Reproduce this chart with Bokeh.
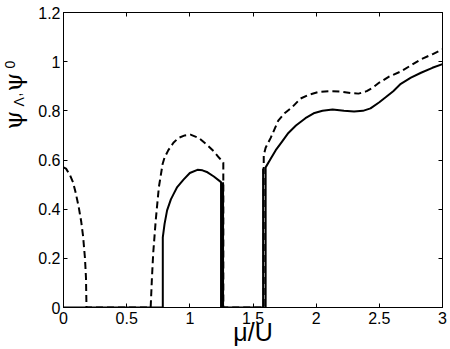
import math
from bokeh.plotting import figure
from bokeh.layouts import row
from bokeh.models import Range1d, LinearAxis, FixedTicker, Label
from bokeh.embed import file_html
from bokeh.resources import INLINE

# ---- data ----
x_ticks = [0, 0.5, 1, 1.5, 2, 2.5, 3]
x_tick_labels = ["0", "0.5", "1", "1.5", "2", "2.5", "3"]
y_ticks = [0, 0.2, 0.4, 0.6, 0.8, 1.0, 1.2]
y_tick_labels = ["0", "0.2", "0.4", "0.6", "0.8", "1", "1.2"]

# psi_0 (dashed)
psi0_mu = [0.0, 0.02, 0.05, 0.075, 0.095, 0.12, 0.14, 0.155, 0.17, 0.178, 0.182,
           0.69, 0.70, 0.71, 0.73, 0.755, 0.785, 0.80, 0.83, 0.87, 0.91, 0.96,
           1.005, 1.07, 1.14, 1.19, 1.23, 1.265, 1.265,
           1.585, 1.585, 1.60, 1.64, 1.70, 1.75, 1.81, 1.876, 1.94, 2.02, 2.10,
           2.20, 2.28, 2.335, 2.40, 2.45, 2.50, 2.58, 2.67, 2.75, 2.83, 2.92, 3.0]
psi0 = [0.57, 0.565, 0.54, 0.51, 0.47, 0.41, 0.35, 0.29, 0.20, 0.12, 0.0,
        0.0, 0.12, 0.22, 0.354, 0.49, 0.585, 0.61, 0.64, 0.67, 0.69, 0.70,
        0.703, 0.69, 0.66, 0.635, 0.61, 0.59, 0.0,
        0.0, 0.62, 0.65, 0.69, 0.76, 0.79, 0.815, 0.85, 0.865, 0.877, 0.88,
        0.878, 0.872, 0.87, 0.88, 0.895, 0.915, 0.94, 0.96, 0.985, 1.01, 1.03, 1.05]

# psi_Lambda (solid)
psiL_mu = [0.0, 0.786, 0.786, 0.80, 0.82, 0.85, 0.87, 0.90, 0.95, 1.00, 1.06,
           1.10, 1.14, 1.19, 1.247, 1.247, 1.263, 1.263, 1.263,
           1.58, 1.58, 1.58, 1.60, 1.60, 1.64, 1.68, 1.73, 1.78, 1.84, 1.915,
           1.98, 2.05, 2.13, 2.22, 2.30, 2.37, 2.43, 2.50, 2.55, 2.61, 2.67,
           2.75, 2.83, 2.92, 3.0]
psiL = [0.0, 0.0, 0.285, 0.34, 0.395, 0.44, 0.46, 0.49, 0.52, 0.547, 0.56,
        0.558, 0.55, 0.533, 0.51, 0.0, 0.0, 0.51, 0.0,
        0.0, 0.565, 0.0, 0.0, 0.57, 0.605, 0.64, 0.675, 0.71, 0.74, 0.77,
        0.79, 0.80, 0.805, 0.80, 0.797, 0.80, 0.81, 0.835, 0.855, 0.88, 0.91,
        0.935, 0.955, 0.975, 0.99]

H = 349
LW = 30

# ---- main plot ----
p = figure(width=450 - LW, height=H, x_range=Range1d(0, 3), y_range=Range1d(0, 1.2),
           output_backend="svg", toolbar_location=None,
           min_border_left=63 - LW, min_border_right=8, min_border_top=12,
           min_border_bottom=42)
p.xgrid.visible = False
p.ygrid.visible = False
p.outline_line_color = "black"
p.outline_line_width = 1

for ax, ticks, labels in ((p.xaxis[0], x_ticks, x_tick_labels), (p.yaxis[0], y_ticks, y_tick_labels)):
    ax.ticker = FixedTicker(ticks=ticks)
    ax.major_label_overrides = {t: l for t, l in zip(ticks, labels)}
    ax.major_tick_in = 4
    ax.major_tick_out = 0
    ax.minor_tick_line_color = None
    ax.axis_line_color = "black"
    ax.major_tick_line_color = "black"
    ax.major_label_text_font = "Liberation Sans"
    ax.major_label_text_font_size = "16px"
    ax.major_label_text_color = "black"
p.xaxis.major_label_standoff = 4
p.yaxis.major_label_standoff = 3
p.xaxis.axis_label = "μ/U"
p.xaxis.axis_label_text_font = "Liberation Sans"
p.xaxis.axis_label_text_font_size = "25px"
p.xaxis.axis_label_text_font_style = "normal"
p.xaxis.axis_label_text_color = "black"
p.xaxis.axis_label_standoff = -9

top = LinearAxis(ticker=FixedTicker(ticks=x_ticks), major_tick_in=4, major_tick_out=0,
                 minor_tick_line_color=None, major_label_text_color=None,
                 major_label_standoff=0, axis_line_color="black")
right = LinearAxis(ticker=FixedTicker(ticks=y_ticks), major_tick_in=4, major_tick_out=0,
                   minor_tick_line_color=None, major_label_text_color=None,
                   major_label_standoff=0, axis_line_color="black")
p.add_layout(top, "above")
p.add_layout(right, "right")

p.line(psiL_mu, psiL, line_color="black", line_width=2)
p.line(psi0_mu, psi0, line_color="black", line_width=2, line_dash="7 4")

# ---- y-axis label strip (psi_Lambda, psi_0) ----
q = figure(width=LW, height=H, x_range=Range1d(0, LW), y_range=Range1d(0, H),
           output_backend="svg", toolbar_location=None,
           x_axis_location=None, y_axis_location=None,
           min_border_left=0, min_border_right=0, min_border_top=0,
           min_border_bottom=0)
q.xgrid.visible = False
q.ygrid.visible = False
q.outline_line_color = None


def lab(x, y, t, font, size):
    q.add_layout(Label(x=x, y=y, x_units="screen", y_units="screen", text=t,
                       angle=math.pi / 2, text_font=font, text_font_size=size,
                       text_align="left", text_baseline="middle",
                       text_color="black"))


lab(13, H - 171, "ψ", "DejaVu Serif", "24px")
lab(18, H - 148, "Λ", "Liberation Sans", "14px")
lab(15, H - 138, ",", "Liberation Sans", "14px")
lab(13, H - 133, "ψ", "DejaVu Serif", "24px")
lab(9, H - 110, "0", "Liberation Sans", "14px")

layout = row(q, p, spacing=0)
open("out.html", "w").write(file_html(layout, INLINE))
